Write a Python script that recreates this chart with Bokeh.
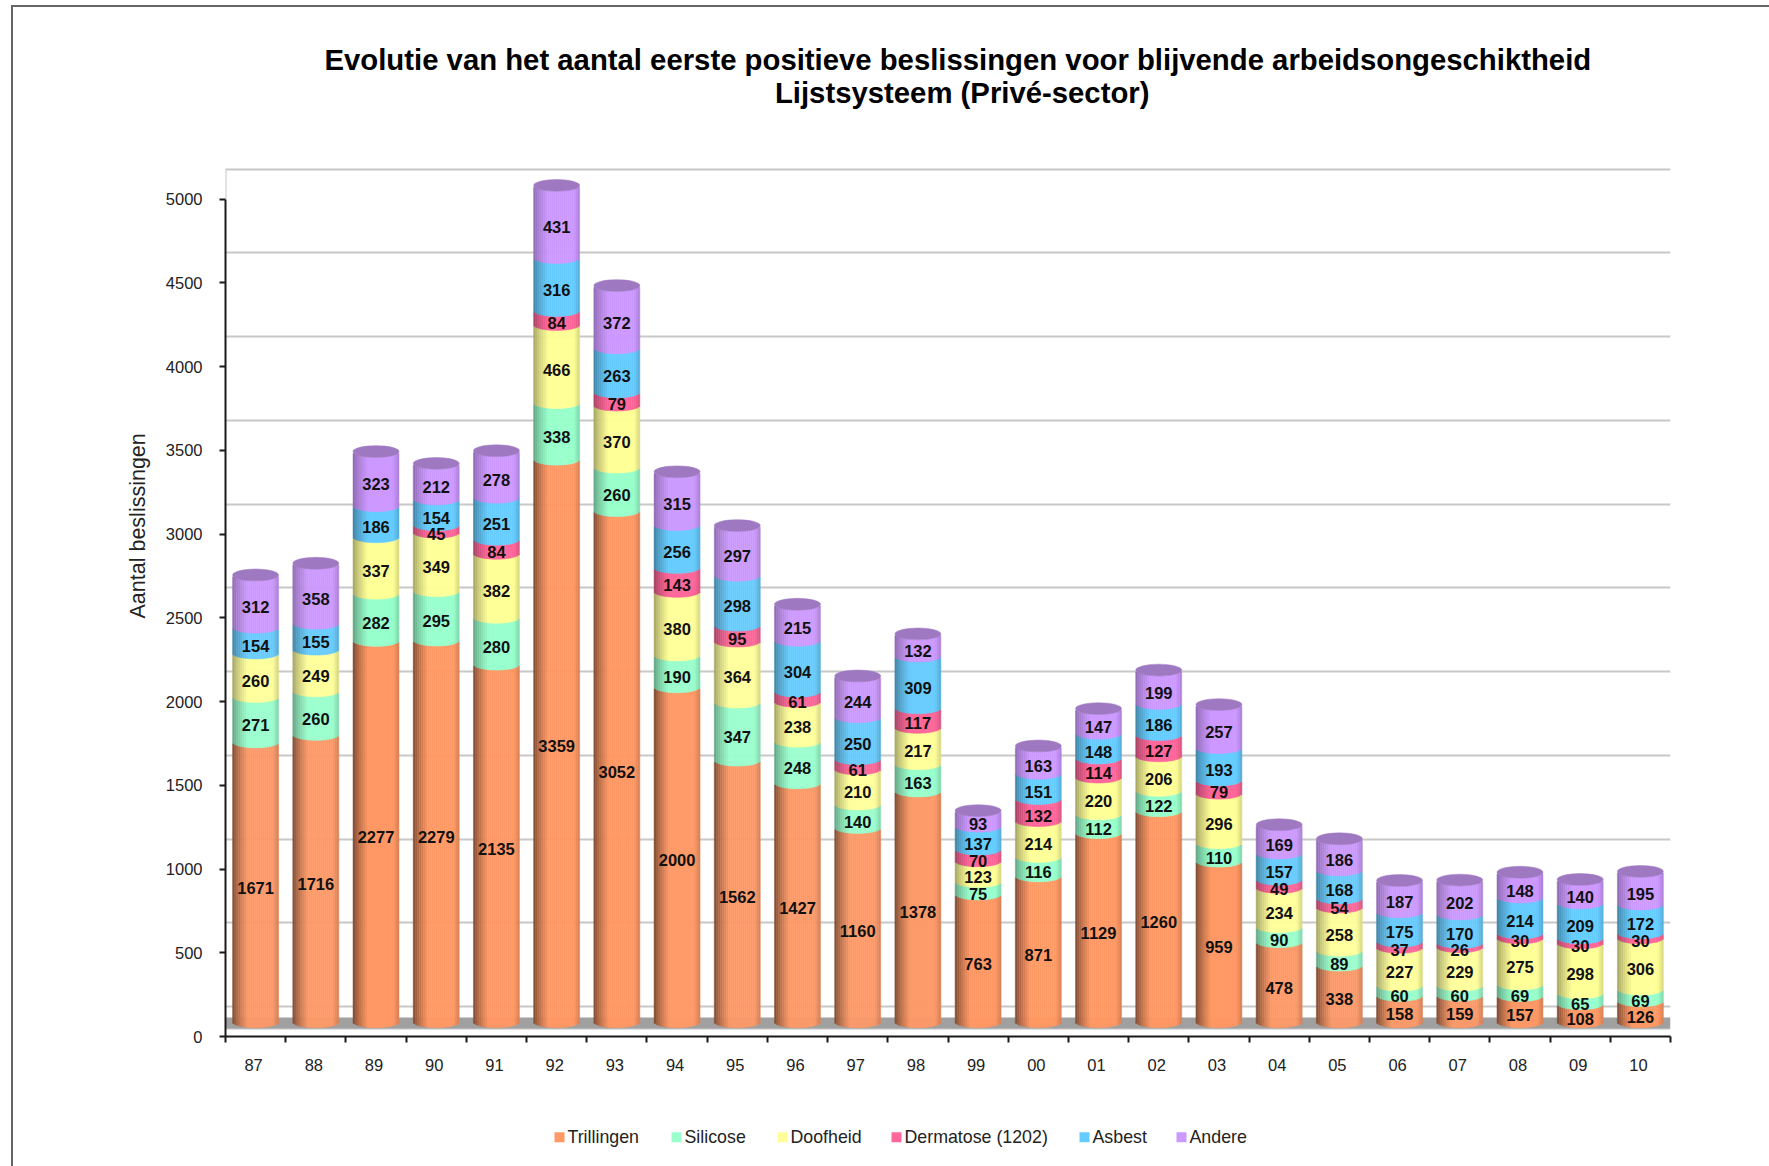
import math
from bokeh.plotting import figure
from bokeh.layouts import column
from bokeh.embed import file_html
from bokeh.resources import INLINE
from bokeh.core.properties import value
from bokeh.models import (FixedTicker, Range1d, Title, InlineStyleSheet)

years = ["87","88","89","90","91","92","93","94","95","96","97","98","99","00","01","02","03","04","05","06","07","08","09","10"]
series_names = ["Trillingen", "Silicose", "Doofheid", "Dermatose (1202)", "Asbest", "Andere"]
series_colors = ["#FF9966", "#99FFCC", "#FFFF99", "#FF6699", "#66CCFF", "#CC99FF"]
trillingen = [1671,1716,2277,2279,2135,3359,3052,2000,1562,1427,1160,1378,763,871,1129,1260,959,478,338,158,159,157,108,126]
silicose = [271,260,282,295,280,338,260,190,347,248,140,163,75,116,112,122,110,90,89,60,60,69,65,69]
doofheid = [260,249,337,349,382,466,370,380,364,238,210,217,123,214,220,206,296,234,258,227,229,275,298,306]
dermatose = [0,0,0,45,84,84,79,143,95,61,61,117,70,132,114,127,79,49,54,37,26,30,30,30]
asbest = [154,155,186,154,251,316,263,256,298,304,250,309,137,151,148,186,193,157,168,175,170,214,209,172]
andere = [312,358,323,212,278,431,372,315,297,215,244,132,93,163,147,199,257,169,186,187,202,148,140,195]
series = [trillingen, silicose, doofheid, dermatose, asbest, andere]
y_ticks = [0,500,1000,1500,2000,2500,3000,3500,4000,4500,5000]
title_line1 = "Evolutie van het aantal eerste positieve beslissingen voor blijvende arbeidsongeschiktheid"
title_line2 = "Lijstsysteem (Privé-sector)"
y_label = "Aantal beslissingen"

W, H = 1769, 1122
LEG_H = 44
FL, FR, FT, FB = 225, 99, 75, 86
fw, fh = W - FL - FR, H - FT - FB
BOTTOM_PX = H - FB
PX_Y = 0.16748            # px per value
ymax = fh / PX_Y
PX_X = fw / len(years)    # px per category
BASE = 14.7 / PX_Y        # depth of the 3D floor in value units
WALL = 30.0 / PX_Y        # back wall offset
BAR_PX = 46.0
EL_PX = 5.9
STRIPS = 23
LABEL_SHIFT = -2.0 / PX_X

frame_css = InlineStyleSheet(css=""":host::after{content:"";position:absolute;left:11px;top:5px;width:1758px;height:1161px;
border-left:2px solid #666;border-top:2px solid #666;box-sizing:border-box;pointer-events:none;}""")

p = figure(width=W, height=H, output_backend="svg", toolbar_location=None,
           x_range=Range1d(0, len(years)), y_range=Range1d(0, ymax),
           min_border_left=FL, min_border_right=FR, min_border_top=FT, min_border_bottom=FB,
           outline_line_color=None, background_fill_color="white", border_fill_color="white")

t1 = Title(text=title_line1, align="left", offset=99, standoff=0, text_font="Liberation Sans",
           text_font_size="29.3px", text_font_style="bold", text_color="black")
p.add_layout(t1, "above")

# wall
p.xgrid.visible = False
g = p.ygrid[0]
g.ticker = FixedTicker(ticks=[t + WALL for t in y_ticks])
g.grid_line_color = "#C8C8C8"
g.grid_line_width = 2
p.segment(x0=[0], x1=[0], y0=[5000], y1=[5000 + WALL], line_color="#C8C8C8", line_width=2)

# second title line sits above the wall, inside the frame
p.text(x=[(961.7 - FL) / PX_X], y=[(BOTTOM_PX - 91.5) / PX_Y], text=[title_line2], text_align="center",
       text_baseline="middle", text_font=value("Liberation Sans"), text_font_size="29.3px",
       text_font_style="bold", text_color="black")

# floor
p.quad(left=[0], right=[len(years)], bottom=[40], top=[46], fill_color="#D4D4D4", line_color=None)
p.quad(left=[0], right=[len(years)], bottom=[46], top=[113], fill_color="#A0A0A0", line_color=None)

def shade(u, low):
    if u < 0.33:
        f = low + (1 - low) * (u / 0.33) ** 0.75
    elif u > 0.88:
        f = 1 - 0.16 * (u - 0.88) / 0.12
    else:
        f = 1.0
    return f

def scale_col(c, f):
    r, g_, b = int(c[1:3], 16), int(c[3:5], 16), int(c[5:7], 16)
    return "#%02X%02X%02X" % (int(r * f), int(g_ * f), int(b * f))

lows = [0.46, 0.62, 0.62, 0.62, 0.62, 0.68]
r_px = BAR_PX / 2
cum = [BASE] * len(years)
lab_x, lab_y, lab_t = [], [], []
for s, vals in enumerate(series):
    L, R, B, T, C = [], [], [], [], []
    for i, v in enumerate(vals):
        lo, hi = cum[i], cum[i] + v
        cum[i] = hi
        if v <= 0:
            continue
        cx = i + 0.5
        lab_x.append(cx)
        lab_y.append((lo + hi) / 2 - EL_PX / PX_Y)
        lab_t.append(str(v))
        for k in range(STRIPS):
            x0 = -r_px + BAR_PX * k / STRIPS
            x1 = -r_px + BAR_PX * (k + 1) / STRIPS
            xm = (x0 + x1) / 2
            drop = EL_PX * math.sqrt(max(0, 1 - (xm / r_px) ** 2)) / PX_Y
            L.append(cx + x0 / PX_X)
            R.append(cx + x1 / PX_X)
            B.append(lo - drop)
            T.append(hi - drop)
            C.append(scale_col(series_colors[s], shade((k + .5) / STRIPS, lows[s])))
    p.quad(left=L, right=R, bottom=B, top=T, fill_color=C, line_color=C, line_width=0.5)

p.ellipse(x=[i + 0.5 for i in range(len(years))], y=cum, width=BAR_PX, height=2 * EL_PX,
          width_units="screen", height_units="screen", fill_color="#9E78C0", line_color="#9E78C0", line_width=0.5)

p.text(x=lab_x, y=lab_y, text=lab_t, text_align="center", text_baseline="middle",
       text_font=value("Liberation Sans"), text_font_size="16.5px", text_font_style="bold",
       text_color="#111111")

# axes
ya = p.yaxis[0]
ya.ticker = FixedTicker(ticks=y_ticks)
ya.bounds = (0, 5000)
ya.axis_line_color = "#1A1A1A"
ya.axis_line_width = 2
ya.major_tick_in = 0
ya.major_tick_out = 6
ya.major_tick_line_color = "#1A1A1A"
ya.major_tick_line_width = 2
ya.minor_tick_line_color = None
ya.major_label_text_font = "Liberation Sans"
ya.major_label_text_font_size = "16.5px"
ya.major_label_text_color = "#222222"
ya.major_label_standoff = 17
ya.formatter.use_scientific = False

tick_pos = [i + 0.5 + LABEL_SHIFT for i in range(len(years))]
xa = p.xaxis[0]
xa.ticker = FixedTicker(ticks=tick_pos, minor_ticks=list(range(len(years) + 1)))
xa.major_label_overrides = dict(zip(tick_pos, years))
xa.axis_line_color = "#1A1A1A"
xa.axis_line_width = 2
xa.major_tick_line_color = None
xa.major_tick_in = 0
xa.major_tick_out = 0
xa.minor_tick_in = 0
xa.minor_tick_out = 6
xa.minor_tick_line_color = "#1A1A1A"
xa.minor_tick_line_width = 2
xa.major_label_text_font = "Liberation Sans"
xa.major_label_text_font_size = "16.5px"
xa.major_label_text_color = "#222222"
xa.major_label_standoff = 16

ylab = Title(text=y_label, align="left", offset=418, standoff=25, text_font="Liberation Sans",
             text_font_size="21.5px", text_font_style="normal", text_color="#222222")
p.add_layout(ylab, "left")

# legend strip
legend_swatch_x = [554, 671, 777, 891, 1079, 1176]
lf = figure(width=W, height=LEG_H, output_backend="svg", toolbar_location=None,
            x_range=Range1d(FL, W - FR), y_range=Range1d(0, LEG_H),
            min_border_left=0, min_border_right=0, min_border_top=0, min_border_bottom=0,
            outline_line_color=None, background_fill_color="white", border_fill_color="white")
lf.axis.visible = False
lf.grid.visible = False
LEG_Y = H + LEG_H - 1136.7
lf.quad(left=legend_swatch_x, right=[x + 10 for x in legend_swatch_x],
        bottom=[LEG_Y - 5] * 6, top=[LEG_Y + 5] * 6, fill_color=series_colors, line_color=None)
lf.text(x=[x + 13 for x in legend_swatch_x], y=[LEG_Y] * 6, text=series_names, text_align="left",
        text_baseline="middle", text_font=value("Liberation Sans"), text_font_size="17.8px", text_color="#222222")

page = column(p, lf, spacing=0, stylesheets=[frame_css])
open("out.html", "w").write(file_html(page, INLINE))
